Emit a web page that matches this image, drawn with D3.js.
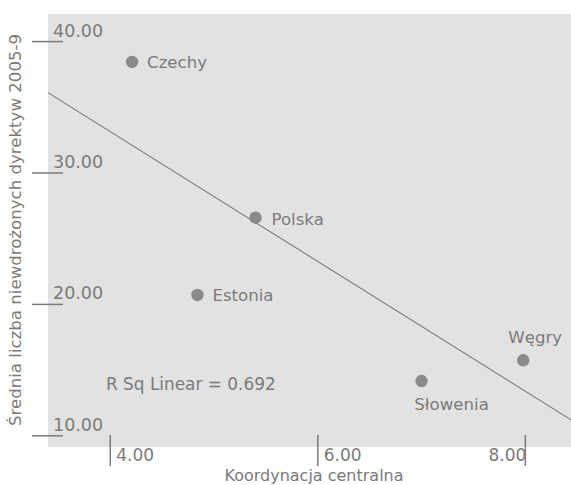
<!DOCTYPE html>
<html>
<head>
<meta charset="utf-8">
<script src="https://cdn.jsdelivr.net/npm/d3@7"></script>
<style>
  html, body { margin: 0; padding: 0; background: #ffffff; }
  svg { display: block; }
</style>
</head>
<body>
<svg id="chart" width="571" height="485"></svg>
<script>
// Countries and their values
const countries = ["Czechy", "Polska", "Estonia", "Węgry", "Słowenia"];
const coordination = [4.21, 5.40, 4.84, 7.98, 7.00];
const directives = [38.45, 26.6, 20.72, 15.75, 14.17];

// Axis ticks and labels
const xTicks = [4, 6, 8];
const xTickLabels = ["4.00", "6.00", "8.00"];
const yTicks = [10, 20, 30, 40];
const yTickLabels = ["10.00", "20.00", "30.00", "40.00"];

// Linear fit: directives = intercept + slope * coordination
const fitIntercept = [52.91];
const fitSlope = [-4.94];
const rSquared = ["0.692"];

const xTitle = "Koordynacja centralna";
const yTitle = "Średnia liczba niewdrożonych dyrektyw 2005-9";

const svg = d3.select("#chart");
const plot = { left: 48, top: 14, right: 571, bottom: 447 };

const x = d3.scaleLinear().domain([3.4, 8.44]).range([plot.left, plot.right]);
const y = d3.scaleLinear().domain([9.15, 42.1]).range([plot.bottom, plot.top]);

const textColor = "#7a7a7a";
const numFont = "DejaVu Sans";
const txtFont = "DejaVu Sans";

// plot background
svg.append("rect")
  .attr("x", plot.left).attr("y", plot.top)
  .attr("width", plot.right - plot.left).attr("height", plot.bottom - plot.top)
  .attr("fill", "#e2e2e2");

svg.append("clipPath").attr("id", "plotClip")
  .append("rect")
  .attr("x", plot.left).attr("y", plot.top)
  .attr("width", plot.right - plot.left).attr("height", plot.bottom - plot.top);

// Y axis ticks: short lines straddling the plot edge, labels above them
const yAxisG = svg.append("g");
yTicks.forEach((t, i) => {
  const py = y(t);
  yAxisG.append("line")
    .attr("x1", 32).attr("x2", 63)
    .attr("y1", py).attr("y2", py)
    .attr("stroke", "#7a7a7a").attr("stroke-width", 1.5);
  yAxisG.append("text")
    .attr("x", 53).attr("y", py - 5)
    .attr("font-family", numFont).attr("font-size", 17.5)
    .attr("fill", textColor)
    .text(yTickLabels[i]);
});

// X axis ticks: vertical lines crossing the plot bottom
const xAxisG = svg.append("g");
xTicks.forEach((t, i) => {
  const px = x(t);
  xAxisG.append("line")
    .attr("x1", px).attr("x2", px)
    .attr("y1", 435).attr("y2", 466)
    .attr("stroke", "#7a7a7a").attr("stroke-width", 1.5);
  const last = i === xTicks.length - 1;
  xAxisG.append("text")
    .attr("x", last ? px + 1 : px + 6)
    .attr("y", 461)
    .attr("text-anchor", last ? "end" : "start")
    .attr("font-family", numFont).attr("font-size", 17)
    .attr("fill", textColor)
    .text(xTickLabels[i]);
});

// Fit line
const xd = x.domain();
svg.append("line")
  .attr("clip-path", "url(#plotClip)")
  .attr("x1", x(xd[0])).attr("y1", y(fitIntercept[0] + fitSlope[0] * xd[0]))
  .attr("x2", x(xd[1])).attr("y2", y(fitIntercept[0] + fitSlope[0] * xd[1]))
  .attr("stroke", "#7a7a7a").attr("stroke-width", 1.1);

// Points
const points = countries.map((c, i) => ({ name: c, x: coordination[i], y: directives[i] }));
svg.append("g").selectAll("circle")
  .data(points).join("circle")
  .attr("cx", d => x(d.x)).attr("cy", d => y(d.y))
  .attr("r", 6.2)
  .attr("fill", "#8a8a8a");

// Point labels: placement relative to each point
const labelPlacement = {
  "Czechy":   { dx: 15, dy: 6.5, anchor: "start" },
  "Polska":   { dx: 16, dy: 7, anchor: "start" },
  "Estonia":  { dx: 15, dy: 6.5, anchor: "start" },
  "Węgry":    { dx: 12, dy: -17, anchor: "middle" },
  "Słowenia": { dx: 30, dy: 29, anchor: "middle" }
};
svg.append("g").selectAll("text")
  .data(points).join("text")
  .attr("x", d => x(d.x) + labelPlacement[d.name].dx)
  .attr("y", d => y(d.y) + labelPlacement[d.name].dy)
  .attr("text-anchor", d => labelPlacement[d.name].anchor)
  .attr("font-family", txtFont).attr("font-size", 16.6)
  .attr("fill", textColor)
  .text(d => d.name);

// R squared annotation
svg.append("text")
  .attr("x", 106).attr("y", 390)
  .attr("font-family", txtFont).attr("font-size", 16.9)
  .attr("fill", textColor)
  .text("R Sq Linear = " + rSquared[0]);

// Axis titles
svg.append("text")
  .attr("x", 314).attr("y", 481)
  .attr("text-anchor", "middle")
  .attr("font-family", txtFont).attr("font-size", 16)
  .attr("fill", textColor)
  .text(xTitle);

svg.append("text")
  .attr("transform", "translate(21,230) rotate(-90)")
  .attr("text-anchor", "middle")
  .attr("font-family", txtFont).attr("font-size", 16.6)
  .attr("fill", textColor)
  .text(yTitle);
</script>
</body>
</html>
